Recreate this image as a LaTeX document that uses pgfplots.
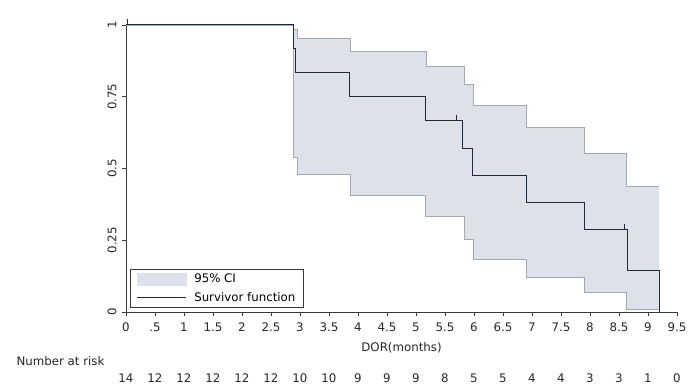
\documentclass[border=0pt]{standalone}
\usepackage{fontspec}
\setmainfont{DejaVu Sans}
\usepackage{pgfplots}
\pgfplotsset{compat=1.18}
\usepgfplotslibrary{fillbetween}
\definecolor{cifill}{HTML}{DDE2EA}
\definecolor{ciedge}{HTML}{A4A9B0}
\definecolor{surv}{HTML}{1E2A3A}
\definecolor{axisc}{HTML}{3A3A3A}
\newcommand{\fs}{\fontsize{11.8}{13}\selectfont}
\begin{document}
\begin{tikzpicture}
\begin{axis}[
  at={(126pt,78pt)}, anchor=south west,
  scale only axis, width=551pt, height=287pt,
  xmin=0, xmax=9.5, ymin=0, ymax=1,
  clip=false,
  axis lines*=left,
  axis line style={axisc, line width=0.8pt},
  tick style={axisc, line width=0.8pt},
  major tick length=4pt, tick align=outside,
  xtick={0,0.5,1,1.5,2,2.5,3,3.5,4,4.5,5,5.5,6,6.5,7,7.5,8,8.5,9,9.5},
  xticklabels={0,.5,1,1.5,2,2.5,3,3.5,4,4.5,5,5.5,6,6.5,7,7.5,8,8.5,9,9.5},
  ytick={0,0.25,0.5,0.75,1},
  yticklabels={0,0.25,0.5,0.75,1},
  xticklabel style={font=\fs, text=black!85, yshift=-3pt},
  yticklabel shift=2pt,
  yticklabel style={font=\fs, text=black!85, rotate=90, anchor=south},
  xlabel={DOR(months)},
  xlabel style={font=\fs, text=black!85, at={(axis description cs:0.5,0)}, anchor=center, yshift=-36pt},
  legend style={at={(axis cs:0.07,0.014)}, anchor=south west, draw=axisc, line width=0.6pt,
    font=\fs, inner xsep=6pt, inner ysep=3pt, row sep=4pt, column sep=6pt, cells={anchor=west}},
  legend cell align=left,
]
\addplot[name path=up, const plot, ciedge, line width=0.6pt, forget plot] coordinates {
(0,1) (2.88,0.985) (2.95,0.955) (3.86,0.909) (5.17,0.857) (5.83,0.794) (5.98,0.721)
(6.91,0.644) (7.90,0.554) (8.62,0.439) (9.19,0.439)};
\addplot[name path=lo, const plot, ciedge, line width=0.6pt, forget plot] coordinates {
(0,1) (2.88,0.54) (2.95,0.481) (3.87,0.408) (5.16,0.334) (5.83,0.254) (5.98,0.185)
(6.91,0.122) (7.90,0.07) (8.62,0.01) (9.19,0.01)};
\addplot[cifill, forget plot] fill between[of=up and lo];
\addplot[const plot, ciedge, line width=0.6pt, forget plot] coordinates {
(2.88,0.985) (2.95,0.955) (3.86,0.909) (5.17,0.857) (5.83,0.794) (5.98,0.721)
(6.91,0.644) (7.90,0.554) (8.62,0.439) (9.19,0.439)};
\addplot[const plot, ciedge, line width=0.6pt, forget plot] coordinates {
(2.88,0.54) (2.95,0.481) (3.87,0.408) (5.16,0.334) (5.83,0.254) (5.98,0.185)
(6.91,0.122) (7.90,0.07) (8.62,0.01) (9.19,0.01)};
\addplot[const plot, surv, line width=1pt, forget plot] coordinates {
(0,1) (2.88,0.917) (2.93,0.833) (3.86,0.75) (5.17,0.667) (5.81,0.571) (5.98,0.476)
(6.91,0.381) (7.90,0.286) (8.64,0.143) (9.19,0) };
\addplot[only marks, mark=|, mark size=3pt, surv, mark options={yshift=3pt, line width=0.8pt}, forget plot]
 coordinates {(0.03,1) (5.69,0.667) (8.60,0.286)};
\addlegendimage{legend image code/.code={\fill[cifill] (0pt,-6pt) rectangle (49pt,6pt);}}
\addlegendentry{95\% CI}
\addlegendimage{legend image code/.code={\draw[surv, line width=0.9pt] (0pt,0pt) -- (49pt,0pt);}}
\addlegendentry{Survivor function}
% number at risk
\node[font=\fs, text=black!85, anchor=west] at (axis description cs:0,0) [xshift=-113pt, yshift=-49pt] {Number at risk};
\node[font=\fs, text=black!85] at (axis cs:0,0) [yshift=-66pt] {14};
\node[font=\fs, text=black!85] at (axis cs:0.5,0) [yshift=-66pt] {12};
\node[font=\fs, text=black!85] at (axis cs:1,0) [yshift=-66pt] {12};
\node[font=\fs, text=black!85] at (axis cs:1.5,0) [yshift=-66pt] {12};
\node[font=\fs, text=black!85] at (axis cs:2,0) [yshift=-66pt] {12};
\node[font=\fs, text=black!85] at (axis cs:2.5,0) [yshift=-66pt] {12};
\node[font=\fs, text=black!85] at (axis cs:3,0) [yshift=-66pt] {10};
\node[font=\fs, text=black!85] at (axis cs:3.5,0) [yshift=-66pt] {10};
\node[font=\fs, text=black!85] at (axis cs:4,0) [yshift=-66pt] {9};
\node[font=\fs, text=black!85] at (axis cs:4.5,0) [yshift=-66pt] {9};
\node[font=\fs, text=black!85] at (axis cs:5,0) [yshift=-66pt] {9};
\node[font=\fs, text=black!85] at (axis cs:5.5,0) [yshift=-66pt] {8};
\node[font=\fs, text=black!85] at (axis cs:6,0) [yshift=-66pt] {5};
\node[font=\fs, text=black!85] at (axis cs:6.5,0) [yshift=-66pt] {5};
\node[font=\fs, text=black!85] at (axis cs:7,0) [yshift=-66pt] {4};
\node[font=\fs, text=black!85] at (axis cs:7.5,0) [yshift=-66pt] {4};
\node[font=\fs, text=black!85] at (axis cs:8,0) [yshift=-66pt] {3};
\node[font=\fs, text=black!85] at (axis cs:8.5,0) [yshift=-66pt] {3};
\node[font=\fs, text=black!85] at (axis cs:9,0) [yshift=-66pt] {1};
\node[font=\fs, text=black!85] at (axis cs:9.5,0) [yshift=-66pt] {0};
\end{axis}
\path (0pt,0pt) rectangle (700pt,390pt);
\end{tikzpicture}
\end{document}
